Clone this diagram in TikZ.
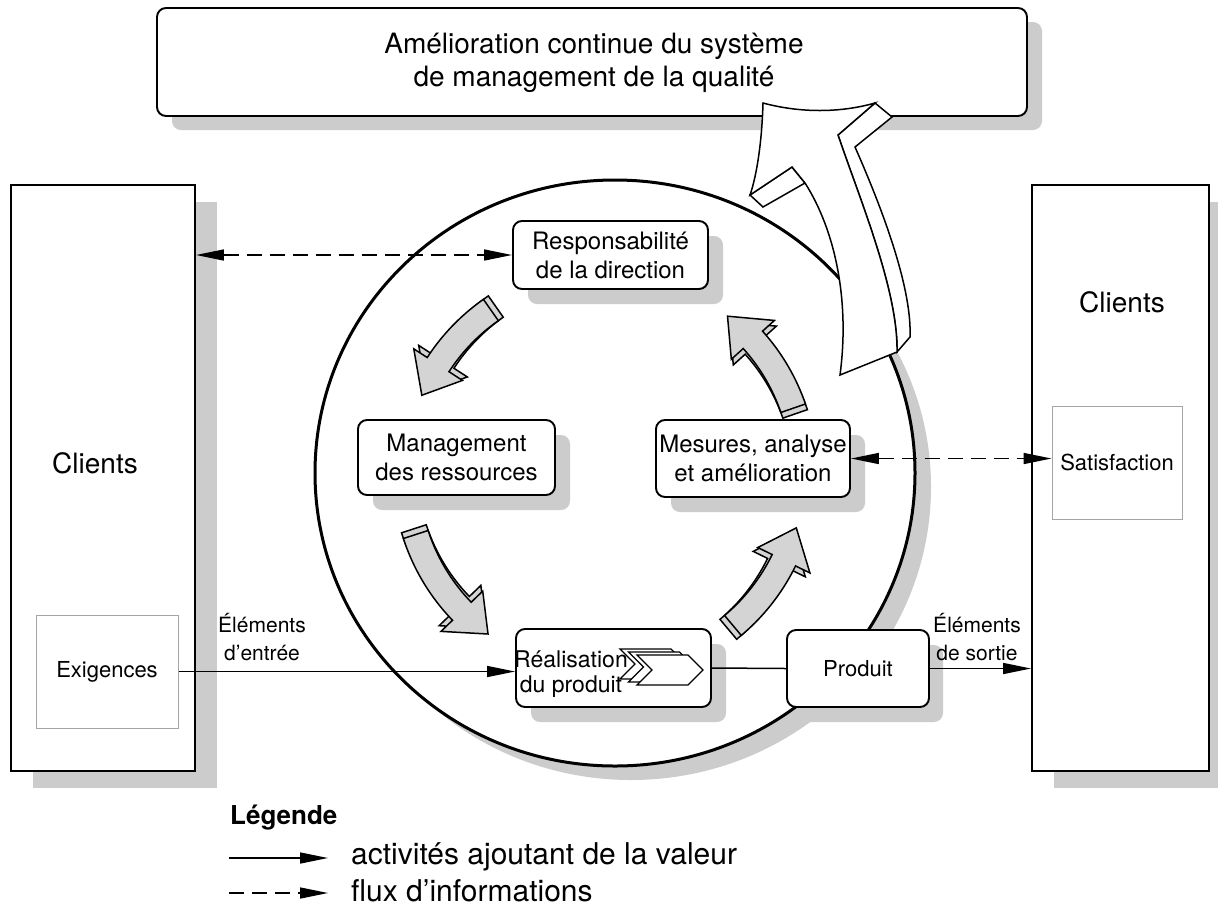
\documentclass[tikz,border=0pt]{standalone}
\usepackage{fontspec}
\setmainfont{TeX Gyre Heros}
\usetikzlibrary{arrows.meta,calc,shadows}
\definecolor{shd}{RGB}{204,204,204}
\definecolor{afill}{RGB}{212,212,212}
\definecolor{thinb}{RGB}{165,165,165}
\newcommand\fs[2]{\fontsize{#1}{#2}\selectfont}
\newcommand\tdarrow[2]{%
 \pgfmathsetmacro\hb{#2-10}%
 \pgfmathsetmacro\sxx{6*sin(#1)}%
 \pgfmathsetmacro\syy{6*cos(#1)}%
 \begin{scope}[shift={(\sxx,\syy)}]
 \filldraw[garrow] plot[domain=#1:\hb,samples=20] ({605+212*cos(\x)},{473-212*sin(\x)})
  -- ({605+228*cos(\hb)},{473-228*sin(\hb)})
  -- ({605+199*cos(#2)},{473-199*sin(#2)})
  -- ({605+170*cos(\hb)},{473-170*sin(\hb)})
  -- plot[domain=\hb:#1,samples=20] ({605+186*cos(\x)},{473-186*sin(\x)})
  -- cycle;
 \end{scope}
 \filldraw[garrow] plot[domain=#1:\hb,samples=20] ({605+212*cos(\x)},{473-212*sin(\x)})
  -- ({605+228*cos(\hb)},{473-228*sin(\hb)})
  -- ({605+199*cos(#2)},{473-199*sin(#2)})
  -- ({605+170*cos(\hb)},{473-170*sin(\hb)})
  -- plot[domain=\hb:#1,samples=20] ({605+186*cos(\x)},{473-186*sin(\x)})
  -- cycle;
}
\tikzset{
 box/.style={draw=black, line width=1.9pt, fill=white, inner sep=0pt},
 rbox/.style={box, rounded corners=9pt},
 sh/.style 2 args={general shadow={fill=shd, shadow xshift=#1, shadow yshift=#2}},
 thinbox/.style={draw=thinb, line width=1pt, fill=white, inner sep=0pt, font=\fs{22}{28}},
 lbl/.style={font=\fs{24}{29}, align=center, inner sep=0pt},
 slbl/.style={font=\fs{21}{28}, align=center, inner sep=0pt},
 conn/.style={line width=1.5pt, -{Triangle[length=28pt,width=11pt]}},
 dconn/.style={line width=1.5pt, dash pattern=on 15pt off 8pt, {Triangle[length=28pt,width=11pt]}-{Triangle[length=28pt,width=11pt]}},
 dlconn/.style={line width=1.5pt, dash pattern=on 15pt off 8pt, -{Triangle[length=28pt,width=11pt]}},
 garrow/.style={fill=afill, draw=black, line width=1.5pt},
 warrow/.style={fill=white, draw=black, line width=1.5pt, line join=miter},
 chev/.style={fill=white, draw=black, line width=1.3pt},
}
\begin{document}
\begin{tikzpicture}[x=1pt,y=-1pt]
\useasboundingbox (0,0) rectangle (1218,906);
\fill[white] (0,0) rectangle (1218,906);

% top box
\node[rbox, sh={15pt}{-14pt}, minimum width=870pt, minimum height=108pt] (top) at (592,62) {};
\node[font=\fs{28}{33}, align=center, inner sep=0pt] (toptxt) at (594,63) {Amélioration continue du système\\de management de la qualité};

% client boxes
\node[box, sh={22pt}{-17pt}, minimum width=184pt, minimum height=586pt] (clL) at (103,478) {};
\node[box, sh={22pt}{-17pt}, minimum width=177pt, minimum height=586pt] (clR) at (1120.5,478) {};
\node[font=\fs{28}{32}, inner sep=0pt] (clLt) at (95,463) {Clients};
\node[font=\fs{28}{32}, inner sep=0pt] (clRt) at (1122,302) {Clients};
\node[thinbox, minimum width=142pt, minimum height=113pt] (exig) at (107,671.5) {Exigences};
\node[thinbox, minimum width=130pt, minimum height=113pt] (satis) at (1117,462.5) {Satisfaction};

% big circle
\fill[shd] (631,487) ellipse [x radius=300, y radius=293];
\draw[line width=3pt, fill=white] (615,473) ellipse [x radius=300, y radius=293];

% inner boxes
\node[rbox, lbl, sh={15pt}{-15pt}, minimum width=195pt, minimum height=68pt] (resp) at (610.5,255) {Responsabilité\\de la direction};
\node[rbox, lbl, sh={15pt}{-15pt}, minimum width=197pt, minimum height=75pt] (mgmt) at (456.5,457.5) {Management\\des ressources};
\node[rbox, lbl, sh={15pt}{-15pt}, minimum width=194pt, minimum height=77pt] (mes) at (753,458.5) {Mesures, analyse\\et amélioration};
\node[rbox, sh={15pt}{-15pt}, minimum width=195pt, minimum height=78pt] (real) at (613.5,668) {};
\node[rbox, sh={14pt}{-15pt}, font=\fs{22}{28}, minimum width=142pt, minimum height=77pt] (prod) at (858,668.5) {Produit};

% chevrons
\foreach \dx/\dy in {-17/-6, -8.5/-3, 0/0}{
  \filldraw[chev, shift={(\dx,\dy)}] (637,655) -- (688,655) -- (703,670) -- (688,685) -- (637,685) -- (652,670) -- cycle;
}
\node[font=\fs{23}{25}, align=center, inner sep=0pt] (realt) at (571,674.5) {Réalisation\\du produit};

% curved grey arrows
\tdarrow{125}{157}
\tdarrow{198}{234}
\tdarrow{310}{344}
\tdarrow{19}{52}

% big white arrow
\filldraw[warrow] (875,103) -- (892,117) -- (855,147) .. controls (885,215) and (912,290) .. (910,337)
  -- (897,352) .. controls (898,290) and (860,200) .. (838,135) -- cycle;
\filldraw[warrow] (750,195) -- (763,207) -- (805,183) -- (792,167) -- cycle;
\filldraw[warrow] (763,103) .. controls (800,113) and (840,113) .. (875,103) -- (838,135)
  .. controls (860,200) and (898,290) .. (897,352) -- (840,375)
  .. controls (850,300) and (835,230) .. (805,183) -- (792,167) -- (750,195)
  .. controls (757,175) and (762,140) .. (763,103) -- cycle;

% connectors
\draw[conn] (exig.east) -- (exig.east -| real.west);
\draw[line width=1.5pt] (real.east) -- (prod.west);
\draw[conn] (prod.east) -- (prod.east -| clR.west);
\draw[dconn] (resp.west -| clL.east) -- (resp.west);
\draw[dconn] (mes.east) -- (mes.east -| satis.west);

\node[slbl] (inlbl) at (262,637) {Éléments\\d’entrée};
\node[slbl] (outlbl) at (977,637) {Éléments\\de sortie};

% legend
\node[font=\fs{26}{30}\bfseries, anchor=west, inner sep=0pt] (leg) at (230,818) {Légende};
\coordinate (l1a) at (229,858);
\coordinate (l1b) at (328,858);
\coordinate (l2a) at (229,893);
\coordinate (l2b) at (328,893);
\draw[conn] (l1a) -- (l1b);
\draw[dlconn] (l2a) -- (l2b);
\node[font=\fs{30}{34}, anchor=west, inner sep=0pt] (leg1) at (351,857) {activités ajoutant de la valeur};
\node[font=\fs{30}{34}, anchor=west, inner sep=0pt] (leg2) at (351,891) {flux d’informations};
\end{tikzpicture}
\end{document}
